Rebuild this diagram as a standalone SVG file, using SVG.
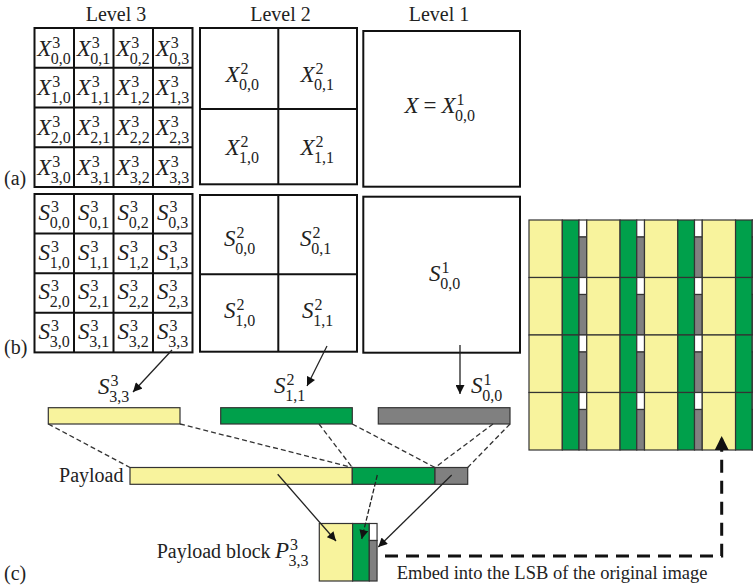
<svg xmlns="http://www.w3.org/2000/svg" xmlns:xlink="http://www.w3.org/1999/xlink" width="753" height="588" viewBox="0 0 753 588">
<style>
.bx{fill:#fff;stroke:#111;stroke-width:2}
.gl{fill:none;stroke:#111;stroke-width:2}
.t{font-family:"Liberation Serif",serif;font-size:20px;fill:#222}
.mi{font-family:"Liberation Serif",serif;font-style:italic;font-size:23px;fill:#222}
.rm{font-style:normal}
.sc{font-style:normal;font-size:16px}
.y{fill:#F8F39D;stroke:#333;stroke-width:1.2}
.g{fill:#00A04B;stroke:#333;stroke-width:1.2}
.k{fill:#808080;stroke:#333;stroke-width:1.2}
.w{fill:#fff;stroke:#333;stroke-width:1.2}
.dl{fill:none;stroke:#333;stroke-width:1.3;stroke-dasharray:5 3}
.ar{fill:none;stroke:#222;stroke-width:1.3}
.big{fill:none;stroke:#111;stroke-width:3;stroke-dasharray:13 8}
</style>
<defs>
<marker id="ah" viewBox="0 0 10 10" refX="10" refY="5" markerWidth="10" markerHeight="9" markerUnits="userSpaceOnUse" orient="auto"><path d="M0,0 L10,5 L0,10 z" fill="#111"/></marker>
<marker id="ahb" viewBox="0 0 10 10" refX="10" refY="5" markerWidth="14" markerHeight="14" markerUnits="userSpaceOnUse" orient="auto"><path d="M0,0 L10,5 L0,10 z" fill="#111"/></marker>
<g id="cell">
<rect class="y" x="0" y="0" width="33.3" height="57.5"/>
<rect class="g" x="33.3" y="0" width="16.7" height="57.5"/>
<rect class="w" x="50" y="0" width="7.75" height="17"/>
<rect class="k" x="50" y="17" width="7.75" height="40.5"/>
</g>
</defs>
<rect width="753" height="588" fill="#fff"/>

<g id="titles">
<text class="t" x="116" y="21" text-anchor="middle">Level 3</text>
<text class="t" x="280.5" y="21" text-anchor="middle">Level 2</text>
<text class="t" x="439" y="21" text-anchor="middle">Level 1</text>
<text class="t" x="4" y="185">(a)</text>
<text class="t" x="4" y="354">(b)</text>
<text class="t" x="4" y="580">(c)</text>
</g>

<g id="X3">
<rect class="bx" x="34.5" y="28" width="158" height="159"/>
<path class="gl" d="M74 28V187M113.5 28V187M153 28V187M34.5 67.75H192.5M34.5 107.5H192.5M34.5 147.25H192.5"/>
<text class="mi" x="37.25" y="55.5">X<tspan class="sc" x="52.25" y="47.5">3</tspan><tspan class="sc" x="50.85" y="63.5">0,0</tspan></text>
<text class="mi" x="76.75" y="55.5">X<tspan class="sc" x="91.75" y="47.5">3</tspan><tspan class="sc" x="90.35" y="63.5">0,1</tspan></text>
<text class="mi" x="116.25" y="55.5">X<tspan class="sc" x="131.25" y="47.5">3</tspan><tspan class="sc" x="129.85" y="63.5">0,2</tspan></text>
<text class="mi" x="155.75" y="55.5">X<tspan class="sc" x="170.75" y="47.5">3</tspan><tspan class="sc" x="169.35" y="63.5">0,3</tspan></text>
<text class="mi" x="37.25" y="95.25">X<tspan class="sc" x="52.25" y="87.25">3</tspan><tspan class="sc" x="50.85" y="103.25">1,0</tspan></text>
<text class="mi" x="76.75" y="95.25">X<tspan class="sc" x="91.75" y="87.25">3</tspan><tspan class="sc" x="90.35" y="103.25">1,1</tspan></text>
<text class="mi" x="116.25" y="95.25">X<tspan class="sc" x="131.25" y="87.25">3</tspan><tspan class="sc" x="129.85" y="103.25">1,2</tspan></text>
<text class="mi" x="155.75" y="95.25">X<tspan class="sc" x="170.75" y="87.25">3</tspan><tspan class="sc" x="169.35" y="103.25">1,3</tspan></text>
<text class="mi" x="37.25" y="135">X<tspan class="sc" x="52.25" y="127">3</tspan><tspan class="sc" x="50.85" y="143">2,0</tspan></text>
<text class="mi" x="76.75" y="135">X<tspan class="sc" x="91.75" y="127">3</tspan><tspan class="sc" x="90.35" y="143">2,1</tspan></text>
<text class="mi" x="116.25" y="135">X<tspan class="sc" x="131.25" y="127">3</tspan><tspan class="sc" x="129.85" y="143">2,2</tspan></text>
<text class="mi" x="155.75" y="135">X<tspan class="sc" x="170.75" y="127">3</tspan><tspan class="sc" x="169.35" y="143">2,3</tspan></text>
<text class="mi" x="37.25" y="174.75">X<tspan class="sc" x="52.25" y="166.75">3</tspan><tspan class="sc" x="50.85" y="182.75">3,0</tspan></text>
<text class="mi" x="76.75" y="174.75">X<tspan class="sc" x="91.75" y="166.75">3</tspan><tspan class="sc" x="90.35" y="182.75">3,1</tspan></text>
<text class="mi" x="116.25" y="174.75">X<tspan class="sc" x="131.25" y="166.75">3</tspan><tspan class="sc" x="129.85" y="182.75">3,2</tspan></text>
<text class="mi" x="155.75" y="174.75">X<tspan class="sc" x="170.75" y="166.75">3</tspan><tspan class="sc" x="169.35" y="182.75">3,3</tspan></text>
</g>

<g id="X2">
<rect class="bx" x="200" y="28" width="157" height="156.3"/>
<path class="gl" d="M278.3 28V184.3M200 109H357"/>
<text class="mi" x="225.5" y="82">X<tspan class="sc" x="240.5" y="74">2</tspan><tspan class="sc" x="239.1" y="90">0,0</tspan></text>
<text class="mi" x="300.5" y="82">X<tspan class="sc" x="315.5" y="74">2</tspan><tspan class="sc" x="314.1" y="90">0,1</tspan></text>
<text class="mi" x="225.5" y="155">X<tspan class="sc" x="240.5" y="147">2</tspan><tspan class="sc" x="239.1" y="163">1,0</tspan></text>
<text class="mi" x="300.5" y="155">X<tspan class="sc" x="315.5" y="147">2</tspan><tspan class="sc" x="314.1" y="163">1,1</tspan></text>
</g>

<g id="X1">
<rect class="bx" x="363.3" y="31" width="156.7" height="155.7"/>
<text class="mi" x="404.5" y="113">X<tspan class="rm" x="423.5">=</tspan><tspan x="441.5">X</tspan><tspan class="sc" x="456.5" y="105">1</tspan><tspan class="sc" x="455.1" y="121">0,0</tspan></text>
</g>

<g id="S3">
<rect class="bx" x="34.5" y="194" width="158" height="158.4"/>
<path class="gl" d="M74 194V352.4M113.5 194V352.4M153 194V352.4M34.5 233.6H192.5M34.5 273.2H192.5M34.5 312.8H192.5"/>
<text class="mi" x="38.5" y="220">S<tspan class="sc" x="51" y="212">3</tspan><tspan class="sc" x="49.8" y="228">0,0</tspan></text>
<text class="mi" x="78" y="220">S<tspan class="sc" x="90.5" y="212">3</tspan><tspan class="sc" x="89.3" y="228">0,1</tspan></text>
<text class="mi" x="117.5" y="220">S<tspan class="sc" x="130" y="212">3</tspan><tspan class="sc" x="128.8" y="228">0,2</tspan></text>
<text class="mi" x="157" y="220">S<tspan class="sc" x="169.5" y="212">3</tspan><tspan class="sc" x="168.3" y="228">0,3</tspan></text>
<text class="mi" x="38.5" y="259.6">S<tspan class="sc" x="51" y="251.6">3</tspan><tspan class="sc" x="49.8" y="267.6">1,0</tspan></text>
<text class="mi" x="78" y="259.6">S<tspan class="sc" x="90.5" y="251.6">3</tspan><tspan class="sc" x="89.3" y="267.6">1,1</tspan></text>
<text class="mi" x="117.5" y="259.6">S<tspan class="sc" x="130" y="251.6">3</tspan><tspan class="sc" x="128.8" y="267.6">1,2</tspan></text>
<text class="mi" x="157" y="259.6">S<tspan class="sc" x="169.5" y="251.6">3</tspan><tspan class="sc" x="168.3" y="267.6">1,3</tspan></text>
<text class="mi" x="38.5" y="299.2">S<tspan class="sc" x="51" y="291.2">3</tspan><tspan class="sc" x="49.8" y="307.2">2,0</tspan></text>
<text class="mi" x="78" y="299.2">S<tspan class="sc" x="90.5" y="291.2">3</tspan><tspan class="sc" x="89.3" y="307.2">2,1</tspan></text>
<text class="mi" x="117.5" y="299.2">S<tspan class="sc" x="130" y="291.2">3</tspan><tspan class="sc" x="128.8" y="307.2">2,2</tspan></text>
<text class="mi" x="157" y="299.2">S<tspan class="sc" x="169.5" y="291.2">3</tspan><tspan class="sc" x="168.3" y="307.2">2,3</tspan></text>
<text class="mi" x="38.5" y="338.8">S<tspan class="sc" x="51" y="330.8">3</tspan><tspan class="sc" x="49.8" y="346.8">3,0</tspan></text>
<text class="mi" x="78" y="338.8">S<tspan class="sc" x="90.5" y="330.8">3</tspan><tspan class="sc" x="89.3" y="346.8">3,1</tspan></text>
<text class="mi" x="117.5" y="338.8">S<tspan class="sc" x="130" y="330.8">3</tspan><tspan class="sc" x="128.8" y="346.8">3,2</tspan></text>
<text class="mi" x="157" y="338.8">S<tspan class="sc" x="169.5" y="330.8">3</tspan><tspan class="sc" x="168.3" y="346.8">3,3</tspan></text>
</g>

<g id="S2">
<rect class="bx" x="200" y="195" width="157" height="156.7"/>
<path class="gl" d="M278.3 195V351.7M200 274.3H357"/>
<text class="mi" x="224" y="246">S<tspan class="sc" x="236.5" y="238">2</tspan><tspan class="sc" x="235.3" y="254">0,0</tspan></text>
<text class="mi" x="300" y="246">S<tspan class="sc" x="312.5" y="238">2</tspan><tspan class="sc" x="311.3" y="254">0,1</tspan></text>
<text class="mi" x="224" y="318">S<tspan class="sc" x="236.5" y="310">2</tspan><tspan class="sc" x="235.3" y="326">1,0</tspan></text>
<text class="mi" x="302" y="318">S<tspan class="sc" x="314.5" y="310">2</tspan><tspan class="sc" x="313.3" y="326">1,1</tspan></text>
</g>

<g id="S1">
<rect class="bx" x="363.3" y="196.7" width="156.7" height="156"/>
<text class="mi" x="429" y="281">S<tspan class="sc" x="441.5" y="273">1</tspan><tspan class="sc" x="440.3" y="289">0,0</tspan></text>
</g>

<g id="image">
<use xlink:href="#cell" x="529" y="220"/><use xlink:href="#cell" x="586.75" y="220"/><use xlink:href="#cell" x="644.5" y="220"/><use xlink:href="#cell" x="702.25" y="220"/>
<use xlink:href="#cell" x="529" y="277.5"/><use xlink:href="#cell" x="586.75" y="277.5"/><use xlink:href="#cell" x="644.5" y="277.5"/><use xlink:href="#cell" x="702.25" y="277.5"/>
<use xlink:href="#cell" x="529" y="335"/><use xlink:href="#cell" x="586.75" y="335"/><use xlink:href="#cell" x="644.5" y="335"/><use xlink:href="#cell" x="702.25" y="335"/>
<use xlink:href="#cell" x="529" y="392.5"/><use xlink:href="#cell" x="586.75" y="392.5"/><use xlink:href="#cell" x="644.5" y="392.5"/><use xlink:href="#cell" x="702.25" y="392.5"/>
</g>

<g id="bar-s33">
<rect class="y" x="48.3" y="407.7" width="131.7" height="16.3"/>
<text class="mi" x="98" y="393.5">S<tspan class="sc" x="110.5" y="385.5">3</tspan><tspan class="sc" x="109.3" y="401.5">3,3</tspan></text>
</g>
<g id="bar-s11">
<rect class="g" x="220.7" y="407.7" width="131.6" height="16.3"/>
<text class="mi" x="274" y="393">S<tspan class="sc" x="286.5" y="385">2</tspan><tspan class="sc" x="285.3" y="401">1,1</tspan></text>
</g>
<g id="bar-s00">
<rect class="k" x="378.3" y="407.7" width="131.7" height="16.3"/>
<text class="mi" x="471" y="393">S<tspan class="sc" x="483.5" y="385">1</tspan><tspan class="sc" x="482.3" y="401">0,0</tspan></text>
</g>

<g id="payload">
<rect class="y" x="130" y="467.5" width="222.3" height="16.8"/>
<rect class="g" x="352.3" y="467.5" width="82.7" height="16.8"/>
<rect class="k" x="435" y="467.5" width="32.7" height="16.8"/>
<text class="t" x="123.5" y="481.5" text-anchor="end">Payload</text>
</g>

<g id="payload-block">
<use xlink:href="#cell" x="319.3" y="523.5"/>
<text class="t" x="156.7" y="558.3">Payload block <tspan class="mi" x="275">P</tspan><tspan class="sc" x="290" y="550.3">3</tspan><tspan class="sc" x="288.6" y="566.3">3,3</tspan></text>
</g>

<g id="embed-label">
<text class="t" x="396.7" y="579" style="font-size:18.5px">Embed into the LSB of the original image</text>
</g>

<g id="connectors">
<path class="ar" d="M172 350L133 392" marker-end="url(#ah)"/>
<path class="ar" d="M327 346L307 386" marker-end="url(#ah)"/>
<path class="ar" d="M460 345V394" marker-end="url(#ah)"/>
<path class="dl" d="M48.3 424L130 467.5"/>
<path class="dl" d="M180 424L352.3 467.5"/>
<path class="dl" d="M319 424L352.3 467.5"/>
<path class="dl" d="M352.3 424L435 467.5"/>
<path class="dl" d="M493 424L435 467.5"/>
<path class="dl" d="M510 424L467.7 467.5"/>
<path class="ar" d="M277.7 474.3L336 541" marker-end="url(#ah)"/>
<path class="ar" d="M377.3 475L361.7 539" stroke-dasharray="5 2" marker-end="url(#ah)"/>
<path class="ar" d="M451.7 475L378.3 547" marker-end="url(#ah)"/>
<path class="big" d="M385 556H721.7V436" marker-end="url(#ahb)"/>
</g>
</svg>
